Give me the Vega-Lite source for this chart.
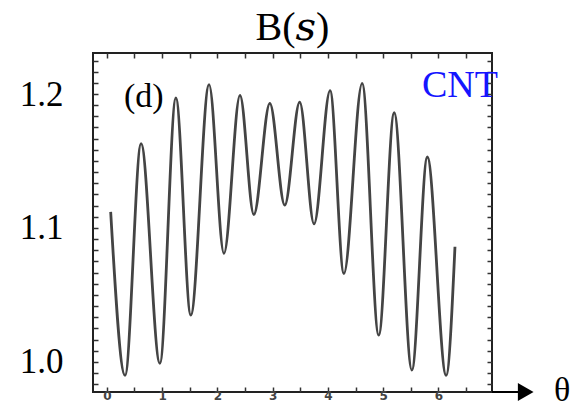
{
  "$schema": "https://vega.github.io/schema/vega-lite/v6.json",
  "width": 399,
  "height": 339,
  "autosize": {"type": "none"},
  "padding": {"left": 93, "top": 53, "right": 84, "bottom": 16},
  "title": {"text": "B(𝑠)", "font": "Liberation Serif, DejaVu Serif, serif", "fontSize": 40, "fontWeight": "normal", "color": "#000", "offset": -4, "anchor": "middle"},
  "config": {
    "view": {"stroke": "#222", "strokeWidth": 2},
    "axis": {"grid": false, "domain": false, "tickColor": "#333", "tickWidth": 1.5, "labelOverlap": false, "labelBound": false, "labelFlush": false, "title": null}
  },
  "datasets": {
    "curve": [
      {"theta": 0.07, "B": 1.112},
      {"theta": 0.33, "B": 0.990},
      {"theta": 0.62, "B": 1.163},
      {"theta": 0.96, "B": 0.999},
      {"theta": 1.25, "B": 1.197},
      {"theta": 1.52, "B": 1.035},
      {"theta": 1.85, "B": 1.207},
      {"theta": 2.12, "B": 1.081},
      {"theta": 2.41, "B": 1.199},
      {"theta": 2.66, "B": 1.110},
      {"theta": 2.95, "B": 1.193},
      {"theta": 3.22, "B": 1.117},
      {"theta": 3.49, "B": 1.194},
      {"theta": 3.75, "B": 1.103},
      {"theta": 4.04, "B": 1.2025},
      {"theta": 4.29, "B": 1.066},
      {"theta": 4.62, "B": 1.208},
      {"theta": 4.92, "B": 1.020},
      {"theta": 5.20, "B": 1.186},
      {"theta": 5.52, "B": 0.994},
      {"theta": 5.80, "B": 1.153},
      {"theta": 6.14, "B": 0.990},
      {"theta": 6.30, "B": 1.086}
    ],
    "notes": [
      {"label": "(d)"}
    ]
  },
  "resolve": {"scale": {"x": "shared", "y": "shared"}, "axis": {"x": "independent", "y": "independent"}},
  "layer": [
    {
      "data": {"name": "curve"},
      "mark": {"type": "line", "interpolate": "monotone", "color": "#444", "strokeWidth": 2.8},
      "encoding": {
        "x": {"field": "theta", "type": "quantitative", "scale": {"domain": [-0.25, 6.97], "nice": false, "zero": false},
          "axis": {"orient": "bottom", "values": [0,0.5,1,1.5,2,2.5,3,3.5,4,4.5,5,5.5,6,6.5], "tickSize": -5, "labelExpr": "datum.value % 1 == 0 ? format(datum.value, 'd') : ''", "labelFont": "DejaVu Sans", "labelFontSize": 12, "labelFontWeight": "bold", "labelColor": "#444", "labelPadding": 3}},
        "y": {"field": "B", "type": "quantitative", "scale": {"domain": [0.9776, 1.2306], "nice": false, "zero": false},
          "axis": {"orient": "left", "values": [0.98333,0.99167,1,1.00833,1.01667,1.025,1.03333,1.04167,1.05,1.05833,1.06667,1.075,1.08333,1.09167,1.1,1.10833,1.11667,1.125,1.13333,1.14167,1.15,1.15833,1.16667,1.175,1.18333,1.19167,1.2,1.20833,1.21667,1.225], "tickSize": -5, "labelExpr": "abs(datum.value-1)<0.001 || abs(datum.value-1.1)<0.001 || abs(datum.value-1.2)<0.001 ? format(datum.value, '.1f') : ''", "labelFont": "Liberation Serif", "labelFontSize": 35, "labelColor": "#000", "labelPadding": 35}}
      }
    },
    {
      "data": {"name": "curve"},
      "mark": {"type": "point", "opacity": 0},
      "encoding": {
        "x": {"field": "theta", "type": "quantitative", "axis": {"orient": "top", "values": [0,0.5,1,1.5,2,2.5,3,3.5,4,4.5,5,5.5,6,6.5], "tickSize": -5, "labels": false}},
        "y": {"field": "B", "type": "quantitative", "axis": {"orient": "right", "values": [0.98333,0.99167,1,1.00833,1.01667,1.025,1.03333,1.04167,1.05,1.05833,1.06667,1.075,1.08333,1.09167,1.1,1.10833,1.11667,1.125,1.13333,1.14167,1.15,1.15833,1.16667,1.175,1.18333,1.19167,1.2,1.20833,1.21667,1.225], "tickSize": -5, "labels": false}}
      }
    },
    {
      "data": {"name": "notes"},
      "mark": {"type": "text", "font": "Liberation Serif", "fontSize": 34, "fontWeight": "normal", "color": "#000", "align": "center", "baseline": "middle"},
      "encoding": {
        "x": {"datum": 0.67, "type": "quantitative", "axis": null},
        "y": {"datum": 1.198, "type": "quantitative", "axis": null},
        "text": {"field": "label"}
      }
    },
    {
      "data": {"name": "notes"},
      "mark": {"type": "text", "font": "Liberation Serif", "fontSize": 38, "fontWeight": "normal", "color": "#1515ff", "align": "center", "baseline": "middle"},
      "encoding": {
        "x": {"datum": 6.39, "type": "quantitative", "axis": null},
        "y": {"datum": 1.206, "type": "quantitative", "axis": null},
        "text": {"value": "CNT"}
      }
    },
    {
      "data": {"name": "notes"},
      "mark": {"type": "rule", "color": "#000", "strokeWidth": 2},
      "encoding": {
        "x": {"datum": 6.97, "type": "quantitative", "axis": null},
        "x2": {"datum": 7.5},
        "y": {"datum": 0.9776, "type": "quantitative", "axis": null}
      }
    },
    {
      "data": {"name": "notes"},
      "mark": {"type": "point", "shape": "triangle-right", "filled": true, "color": "#000", "size": 330, "opacity": 1},
      "encoding": {
        "x": {"datum": 7.58, "type": "quantitative", "axis": null},
        "y": {"datum": 0.9776, "type": "quantitative", "axis": null}
      }
    },
    {
      "data": {"name": "notes"},
      "mark": {"type": "text", "font": "Liberation Serif", "fontSize": 34, "fontWeight": "normal", "color": "#000", "align": "center", "baseline": "middle"},
      "encoding": {
        "x": {"datum": 8.24, "type": "quantitative", "axis": null},
        "y": {"datum": 0.978, "type": "quantitative", "axis": null},
        "text": {"value": "θ"}
      }
    }
  ]
}
